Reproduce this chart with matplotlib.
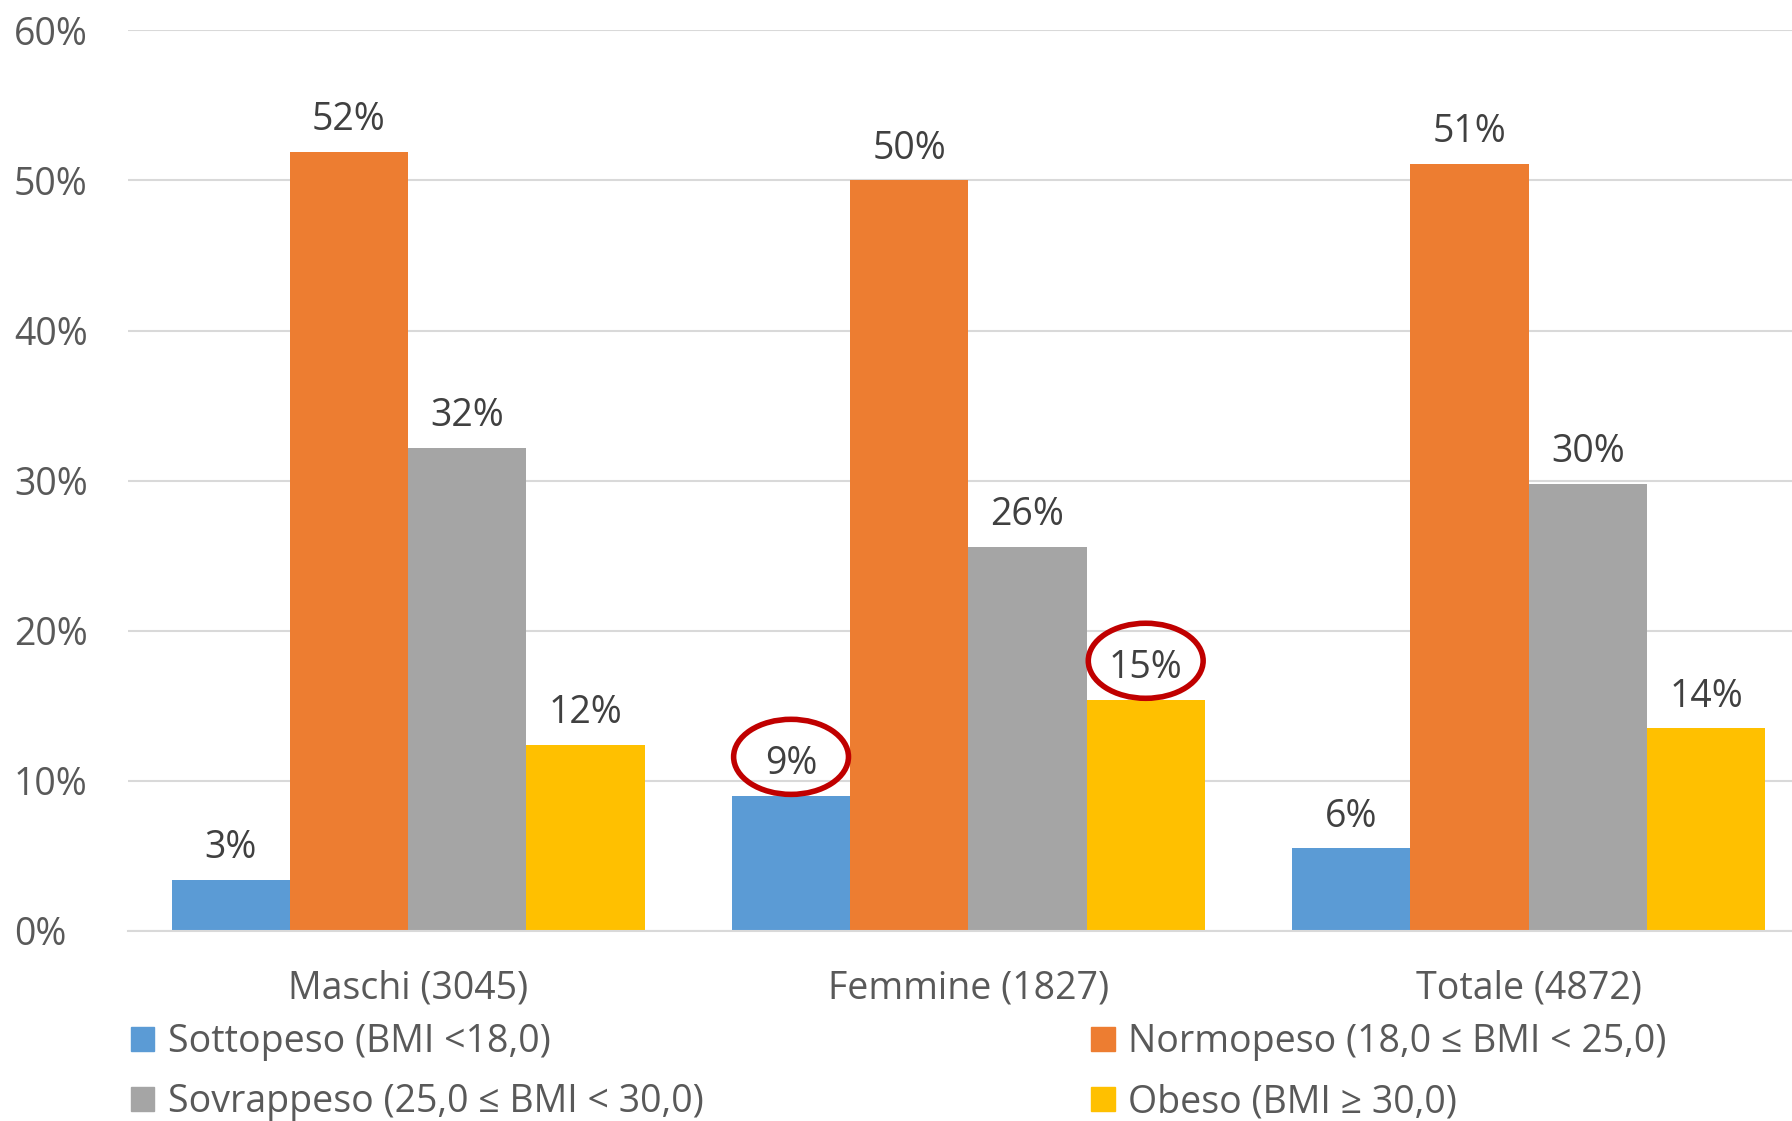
import matplotlib.pyplot as plt
from matplotlib.patches import Ellipse, Patch
import numpy as np

# --- Data ---
groups = ['Maschi (3045)', 'Femmine (1827)', 'Totale (4872)']
series = ['Sottopeso (BMI <18,0)', 'Normopeso (18,0 \u2264 BMI < 25,0)',
          'Sovrappeso (25,0 \u2264 BMI < 30,0)', 'Obeso (BMI \u2265 30,0)']
sottopeso = [3.4, 9.0, 5.5]
normopeso = [51.9, 50.0, 51.1]
sovrappeso = [32.2, 25.6, 29.8]
obeso = [12.4, 15.4, 13.5]
colors = ['#5B9BD5', '#ED7D31', '#A5A5A5', '#FFC000']
# bars whose label is circled in red: (series index, group index)
circled = [(0, 1), (3, 1)]

plt.rcParams['font.family'] = ['Open Sans', 'DejaVu Sans']
TXT = '#595959'
FS = 27

fig = plt.figure(figsize=(17.92, 11.21), dpi=100)
ax = fig.add_axes([0.0714, 0.1695, 0.9286, 0.8035])

x = np.arange(len(groups))
w = 0.211
values = [sottopeso, normopeso, sovrappeso, obeso]
for i, (vals, col) in enumerate(zip(values, colors)):
    pos = x + (i - 1.5) * w
    ax.bar(pos, vals, width=w, color=col, zorder=2)
    for j, (p, v) in enumerate(zip(pos, vals)):
        ax.annotate(f'{v:.0f}%', (p, v), xytext=(0, 9), textcoords='offset points',
                    ha='center', va='bottom', fontsize=FS, color='#404040')
        if (i, j) in circled:
            ax.add_patch(Ellipse((p, v + 2.6), 0.205, 5.0, fill=False,
                                 edgecolor='#C00000', lw=4, zorder=3))

ax.set_xlim(-0.5, 2.47)
ax.set_ylim(0, 60)
ax.set_yticks(range(0, 61, 10))
ax.set_yticklabels([f'{t}%' for t in range(0, 61, 10)])
ax.set_xticks(x)
ax.set_xticklabels(groups)
ax.tick_params(axis='both', length=0, labelsize=FS, colors=TXT)
ax.tick_params(axis='x', pad=28)
ax.tick_params(axis='y', pad=82)
for lab in ax.get_yticklabels():
    lab.set_horizontalalignment('left')
ax.yaxis.grid(True, color='#D9D9D9', lw=1.5, zorder=0)
for s in ['top', 'right', 'left']:
    ax.spines[s].set_visible(False)
ax.spines['bottom'].set_color('#D9D9D9')
ax.spines['bottom'].set_linewidth(1.5)

handles = [Patch(color=c, label=s) for c, s in zip(colors, series)]
leg_kw = dict(frameon=False, fontsize=FS, labelcolor=TXT, handlelength=0.62,
              handleheight=0.62, handletextpad=0.35, labelspacing=0.58,
              loc='upper left', borderaxespad=0, borderpad=0)
fig.legend(handles=[handles[0], handles[2]], bbox_to_anchor=(0.0732, 0.087), **leg_kw)
fig.legend(handles=[handles[1], handles[3]], bbox_to_anchor=(0.609, 0.087), **leg_kw)

fig.savefig('out.png', dpi=100)
